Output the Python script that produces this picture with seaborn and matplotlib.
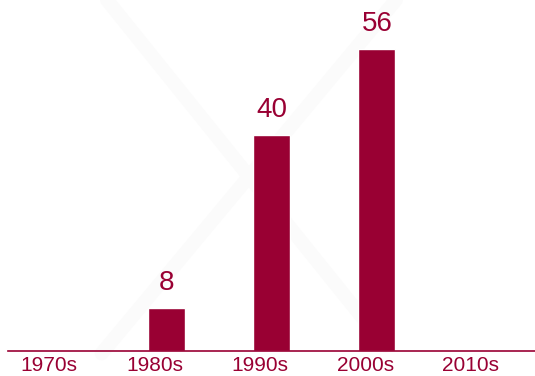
import matplotlib
matplotlib.use("Agg")
import matplotlib.pyplot as plt
import matplotlib.transforms as mtransforms
import seaborn as sns
import pandas as pd
from matplotlib.lines import Line2D

categories = ["1970s", "1980s", "1990s", "2000s", "2010s"]
values = [0, 8, 40, 56, 0]
labels = ["", "8", "40", "56", ""]

COLOR = "#990033"

sns.set_theme(style="white")
plt.rcParams["font.family"] = ["Liberation Sans", "DejaVu Sans"]

fig = plt.figure(figsize=(5.35, 3.76), dpi=100)
# faint watermark X
for (x0, y0, x1, y1) in [(0.20, 1.0, 0.72, 0.08), (0.74, 1.0, 0.19, 0.06)]:
    fig.add_artist(Line2D([x0, x1], [y0, y1], transform=fig.transFigure,
                          color="#fbfbfb", lw=10, zorder=0))

ax = fig.add_axes([8 / 535, 1 - 351 / 376, 527 / 535, 351 / 376])
ax.patch.set_alpha(0)
df = pd.DataFrame({"decade": categories, "count": values})
sns.barplot(data=df, x="decade", y="count", color=COLOR, width=0.35,
            saturation=1, ax=ax)
ax.set_xlim(-0.5, 4.5)
ax.set_ylim(0, 65)
for i, (v, lab) in enumerate(zip(values, labels)):
    if lab:
        ax.text(i, v + 2.2, lab, ha="center", va="bottom", fontsize=20, color=COLOR)

for s in ["top", "right", "left"]:
    ax.spines[s].set_visible(False)
ax.spines["bottom"].set_color(COLOR)
ax.spines["bottom"].set_linewidth(1.2)
ax.set_yticks([])
ax.set_xlabel("")
ax.set_ylabel("")
ax.tick_params(axis="x", length=0, pad=3.5, labelsize=15, labelcolor=COLOR)
shift = mtransforms.ScaledTranslation(-11.5 / 100, 0, fig.dpi_scale_trans)
for t in ax.get_xticklabels():
    t.set_transform(t.get_transform() + shift)

fig.savefig("out.png", dpi=100)
